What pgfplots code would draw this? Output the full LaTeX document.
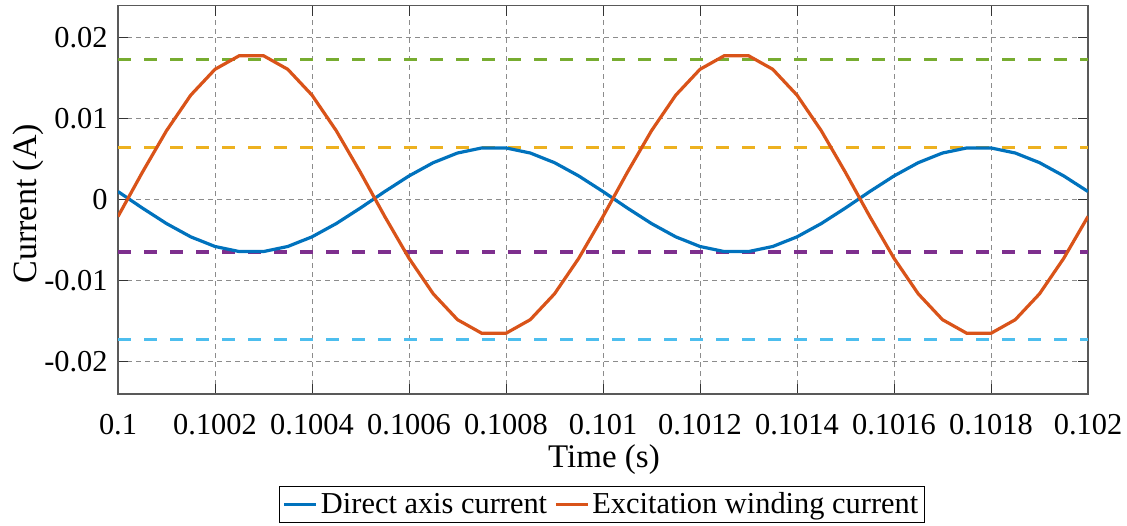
\documentclass[border=0pt]{standalone}
\usepackage{fontspec}
\setmainfont{Liberation Serif}
\usepackage{pgfplots}
\usepackage{pgfplotstable}
\pgfplotsset{compat=1.18}
\definecolor{mblue}{rgb}{0,0.447,0.741}
\definecolor{morange}{rgb}{0.850,0.325,0.098}
\definecolor{myellow}{rgb}{0.929,0.694,0.125}
\definecolor{mpurple}{rgb}{0.494,0.184,0.556}
\definecolor{mgreen}{rgb}{0.466,0.674,0.188}
\definecolor{mcyan}{rgb}{0.301,0.745,0.933}
\pgfplotstableread{
t id ie
0.10000 0.001014 -0.002066
0.10005 -0.001014 0.003366
0.10010 -0.002942 0.008531
0.10015 -0.004582 0.012925
0.10020 -0.005774 0.016118
0.10025 -0.006400 0.017796
0.10030 -0.006400 0.017796
0.10035 -0.005774 0.016118
0.10040 -0.004582 0.012925
0.10045 -0.002942 0.008531
0.10050 -0.001014 0.003366
0.10055 0.001014 -0.002066
0.10060 0.002942 -0.007231
0.10065 0.004582 -0.011625
0.10070 0.005774 -0.014818
0.10075 0.006400 -0.016496
0.10080 0.006400 -0.016496
0.10085 0.005774 -0.014818
0.10090 0.004582 -0.011625
0.10095 0.002942 -0.007231
0.10100 0.001014 -0.002066
0.10105 -0.001014 0.003366
0.10110 -0.002942 0.008531
0.10115 -0.004582 0.012925
0.10120 -0.005774 0.016118
0.10125 -0.006400 0.017796
0.10130 -0.006400 0.017796
0.10135 -0.005774 0.016118
0.10140 -0.004582 0.012925
0.10145 -0.002942 0.008531
0.10150 -0.001014 0.003366
0.10155 0.001014 -0.002066
0.10160 0.002942 -0.007231
0.10165 0.004582 -0.011625
0.10170 0.005774 -0.014818
0.10175 0.006400 -0.016496
0.10180 0.006400 -0.016496
0.10185 0.005774 -0.014818
0.10190 0.004582 -0.011625
0.10195 0.002942 -0.007231
0.10200 0.001014 -0.002066
}\datatable
\begin{document}
\begin{tikzpicture}
\begin{axis}[
  at={(59pt,65.5pt)}, anchor=south west,
  scale only axis, width=485pt, height=194.25pt,
  xmin=0.1, xmax=0.102, ymin=-0.024, ymax=0.024,
  xtick={0.1,0.1002,0.1004,0.1006,0.1008,0.101,0.1012,0.1014,0.1016,0.1018,0.102},
  xticklabels={0.1,0.1002,0.1004,0.1006,0.1008,0.101,0.1012,0.1014,0.1016,0.1018,0.102},
  ytick={-0.02,-0.01,0,0.01,0.02},
  yticklabels={-0.02,-0.01,0,0.01,0.02},
  scaled ticks=false,
  tick align=inside, major tick length=5pt,
  tick style={black!80, line width=0.5pt},
  axis line style={black!65, line width=0.6pt},
  grid=major,
  major grid style={black!45, line width=0.5pt, dash pattern=on 2.5pt off 2pt},
  xticklabel style={anchor=center, inner sep=0pt, yshift=-15.5pt, font=\fontsize{15.2pt}{18pt}\selectfont},
  yticklabel style={anchor=east, inner sep=0pt, xshift=-5pt, font=\fontsize{15.2pt}{18pt}\selectfont},
  xlabel={Time (s)}, ylabel={Current (A)},
  xlabel style={at={(axis description cs:0.501,-0.17)}, anchor=center, font=\fontsize{16.5pt}{20pt}\selectfont},
  ylabel style={at={(axis description cs:-0.0928,0.49)}, anchor=center, font=\fontsize{17pt}{20pt}\selectfont},
  legend style={at={(axis description cs:0.499,-0.332)}, anchor=south, legend columns=2,
    draw=black, line width=0.5pt, inner xsep=1.5pt, inner ysep=1.5pt,
    font=\fontsize{15.2pt}{18pt}\selectfont,
    nodes={inner sep=1.5pt},
    /tikz/every even column/.append style={column sep=2pt}},
  legend cell align=left,
  legend image code/.code={\draw[#1, line width=1.6pt] (0pt,0pt) -- (16pt,0pt);},
]
\addplot[mgreen, line width=1.6pt, dash pattern=on 6.5pt off 6.5pt, forget plot] coordinates {(0.1,0.0173) (0.102,0.0173)};
\addplot[myellow, line width=1.6pt, dash pattern=on 6.5pt off 6.5pt, forget plot] coordinates {(0.1,0.00646) (0.102,0.00646)};
\addplot[mpurple, line width=1.6pt, dash pattern=on 6.5pt off 6.5pt, forget plot] coordinates {(0.1,-0.00646) (0.102,-0.00646)};
\addplot[mcyan, line width=1.6pt, dash pattern=on 6.5pt off 6.5pt, forget plot] coordinates {(0.1,-0.0173) (0.102,-0.0173)};
\addplot[mblue, line width=1.6pt] table[x=t, y=id] {\datatable};
\addlegendentry{Direct axis current}
\addplot[morange, line width=1.6pt] table[x=t, y=ie] {\datatable};
\addlegendentry{Excitation winding current}
\end{axis}
\pgfresetboundingbox
\useasboundingbox (0,0) rectangle (563.5pt,262.5pt);
\end{tikzpicture}
\end{document}
